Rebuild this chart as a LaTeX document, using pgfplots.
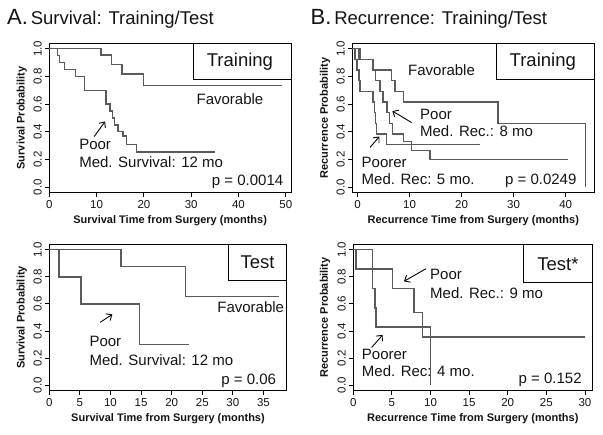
\documentclass[border=0pt]{standalone}
\usepackage{pgfplots}
\pgfplotsset{compat=1.18}
\usepackage{fontspec}
\setmainfont{Liberation Sans}
\usetikzlibrary{arrows.meta}
\definecolor{curve}{RGB}{90,90,90}
\definecolor{txt}{RGB}{20,20,20}
\newcommand{\ann}{\fontsize{15}{15}\selectfont}
\newcommand{\boxfont}{\fontsize{18.5}{18.5}\selectfont}
\tikzset{arr/.style={-{Straight Barb[length=4.5pt,width=8pt]}, line width=0.9pt, black}}
\pgfplotsset{
  km/.style={
    scale only axis,
    anchor=south west,
    clip=false,
    axis line style={black, line width=1pt},
    tick align=outside,
    xtick pos=left, ytick pos=left,
    major tick length=4pt,
    tick style={black, line width=0.9pt},
    ymin=-0.04, ymax=1.04,
    ytick={0,0.2,0.4,0.6,0.8,1.0},
    /pgf/number format/assume math mode=true,
    yticklabel style={rotate=90, anchor=south, /pgf/number format/.cd, fixed, fixed zerofill, precision=1},
    tick label style={font=\fontsize{11.5}{11.5}\selectfont, color=txt},
    label style={font=\bfseries\fontsize{11}{11}\selectfont, color=txt},
    xlabel style={at={(axis description cs:0.5,0)}, anchor=center, yshift=-28pt},
  },
  kmline/.style={const plot, no markers, color=curve, line width=1.35pt},
}
\begin{document}
\begin{tikzpicture}
\useasboundingbox (0,0) rectangle (603pt,435pt);
% titles
\node[anchor=base west, inner sep=0pt, color=txt] at (7pt,410pt) {{\fontsize{22}{22}\selectfont A.} {\fontsize{18.5}{18.5}\selectfont Survival: Training/Test}};
\node[anchor=base west, inner sep=0pt, color=txt] at (310.5pt,410pt) {{\fontsize{22}{22}\selectfont B.} {\fontsize{18.5}{18.5}\selectfont Recurrence: Training/Test}};

% Panel A: survival training
\begin{axis}[km, at={(49.3pt,242.3pt)}, width=241.7pt, height=149.4pt,
  xmin=0, xmax=51.1, xtick={0,10,20,30,40,50},
  xlabel={Survival Time from Surgery (months)},
  ylabel={Survival Probability},
  ylabel style={at={(axis description cs:-0.114,0.5)}, anchor=center}]
\addplot[kmline] coordinates {(0,1)(10.9,0.955)(13.2,0.888)(15.4,0.817)(19.9,0.733)(49.3,0.733)};
\addplot[kmline] coordinates {(0,1)(1.7,0.95)(2.2,0.9)(3.2,0.85)(5.6,0.8)(7.4,0.7)(12.0,0.6)(12.8,0.55)(13.3,0.5)(13.8,0.45)(14.5,0.4)(15.6,0.37)(16.3,0.31)(18.4,0.255)(35.0,0.255)};
\draw[black, line width=1pt] (axis cs:30.4,0.776) rectangle (rel axis cs:1,1);
\node[color=txt] at (axis cs:40.3,0.905) {\boxfont Training};
\node[anchor=base, color=txt] at (axis cs:38.2,0.60) {\ann Favorable};
\node[anchor=base west, inner sep=0pt, color=txt] at (axis cs:6.3,0.274) {\ann Poor};
\node[anchor=base west, inner sep=0pt, color=txt] at (axis cs:6.3,0.142) {\ann Med. Survival: 12 mo};
\node[anchor=base east, inner sep=0pt, color=txt] at (axis cs:49.5,0.014) {\ann p = 0.0014};
\draw[arr] (axis cs:9.5,0.366) -- (axis cs:11.8,0.475);
\end{axis}

% Panel B: recurrence training
\begin{axis}[km, at={(352.3pt,242.3pt)}, width=242pt, height=149.4pt,
  xmin=-1, xmax=45.5, xtick={0,10,20,30,40},
  xlabel={Recurrence Time from Surgery (months)},
  ylabel={Recurrence Probability},
  ylabel style={at={(axis description cs:-0.113,0.5)}, anchor=center}]
\addplot[kmline] coordinates {(-1,1)(0.6,0.923)(3.0,0.846)(6.5,0.769)(7.2,0.692)(8.8,0.615)(27.0,0.462)(43.8,0)};
\addplot[kmline] coordinates {(-1,1)(0.3,0.923)(3.0,0.846)(3.5,0.769)(4.3,0.692)(4.9,0.615)(5.7,0.538)(6.2,0.462)(6.7,0.385)(8.8,0.33)(10.4,0.264)(13.9,0.198)(40.5,0.198)};
\addplot[kmline] coordinates {(-1,1)(-0.5,0.923)(-0.1,0.846)(0.3,0.769)(0.5,0.692)(3.0,0.615)(3.3,0.538)(3.5,0.462)(3.7,0.385)(5.6,0.308)(23.5,0.308)};
\draw[black, line width=1pt] (axis cs:26.7,0.777) rectangle (rel axis cs:1,1);
\node[color=txt] at (axis cs:35.6,0.905) {\boxfont Training};
\node[anchor=base, color=txt] at (axis cs:16.15,0.81) {\ann Favorable};
\node[anchor=base west, inner sep=0pt, color=txt] at (axis cs:12.0,0.487) {\ann Poor};
\node[anchor=base west, inner sep=0pt, color=txt] at (axis cs:12.0,0.363) {\ann Med. Rec.: 8 mo};
\node[anchor=base west, inner sep=0pt, color=txt] at (axis cs:0.77,0.141) {\ann Poorer};
\node[anchor=base west, inner sep=0pt, color=txt] at (axis cs:0.77,0.021) {\ann Med. Rec: 5 mo.};
\node[anchor=base east, inner sep=0pt, color=txt] at (axis cs:42.1,0.021) {\ann p = 0.0249};
\draw[arr] (axis cs:10.4,0.467) -- (axis cs:6.7,0.55);
\draw[arr] (axis cs:2.4,0.287) -- (axis cs:4.2,0.366);
\end{axis}

% Panel C: survival test
\begin{axis}[km, at={(49.3pt,44.3pt)}, width=237.4pt, height=146.4pt,
  xmin=0, xmax=38.8, xtick={0,5,10,15,20,25,30,35},
  xlabel={Survival Time from Surgery (months)},
  ylabel={Survival Probability},
  ylabel style={at={(axis description cs:-0.116,0.5)}, anchor=center}]
\addplot[kmline] coordinates {(0,1)(11.7,0.875)(22.3,0.656)(37.5,0.656)};
\addplot[kmline] coordinates {(0,1)(1.6,0.8)(5.2,0.6)(14.7,0.3)(22.8,0.3)};
\draw[black, line width=1pt] (axis cs:29.3,0.775) rectangle (rel axis cs:1,1);
\node[color=txt] at (axis cs:34.05,0.905) {\boxfont Test};
\node[anchor=base east, inner sep=0pt, color=txt] at (axis cs:38.4,0.535) {\ann Favorable};
\node[anchor=base west, inner sep=0pt, color=txt] at (axis cs:6.54,0.283) {\ann Poor};
\node[anchor=base west, inner sep=0pt, color=txt] at (axis cs:6.54,0.144) {\ann Med. Survival: 12 mo};
\node[anchor=base east, inner sep=0pt, color=txt] at (axis cs:37.1,0.002) {\ann p = 0.06};
\draw[arr] (axis cs:8.3,0.464) -- (axis cs:10.3,0.523);
\end{axis}

% Panel D: recurrence test
\begin{axis}[km, at={(353.3pt,44.3pt)}, width=239pt, height=146.4pt,
  xmin=0, xmax=30.95, xtick={0,5,10,15,20,25,30},
  xlabel={Recurrence Time from Surgery (months)},
  ylabel={Recurrence Probability},
  ylabel style={at={(axis description cs:-0.118,0.5)}, anchor=center}]
\addplot[kmline] coordinates {(0,1)(2.46,0.857)(5.05,0.714)(7.86,0.536)(9.0,0.357)(30.0,0.357)};
\addplot[kmline] coordinates {(0,1)(0.35,0.857)(2.46,0.714)(2.8,0.571)(2.95,0.429)(10.0,0)};
\draw[black, line width=1pt] (axis cs:22.1,0.755) rectangle (rel axis cs:1,1);
\node[color=txt] at (axis cs:26.5,0.895) {\boxfont Test*};
\node[anchor=base west, inner sep=0pt, color=txt] at (axis cs:9.93,0.779) {\ann Poor};
\node[anchor=base west, inner sep=0pt, color=txt] at (axis cs:9.93,0.642) {\ann Med. Rec.: 9 mo};
\node[anchor=base west, inner sep=0pt, color=txt] at (axis cs:1.09,0.19) {\ann Poorer};
\node[anchor=base west, inner sep=0pt, color=txt] at (axis cs:1.09,0.063) {\ann Med. Rec: 4 mo.};
\node[anchor=base east, inner sep=0pt, color=txt] at (axis cs:29.6,0.01) {\ann p = 0.152};
\draw[arr] (axis cs:9.42,0.86) -- (axis cs:6.57,0.767);
\draw[arr] (axis cs:2.38,0.279) -- (axis cs:3.81,0.372);
\end{axis}
\end{tikzpicture}
\end{document}
